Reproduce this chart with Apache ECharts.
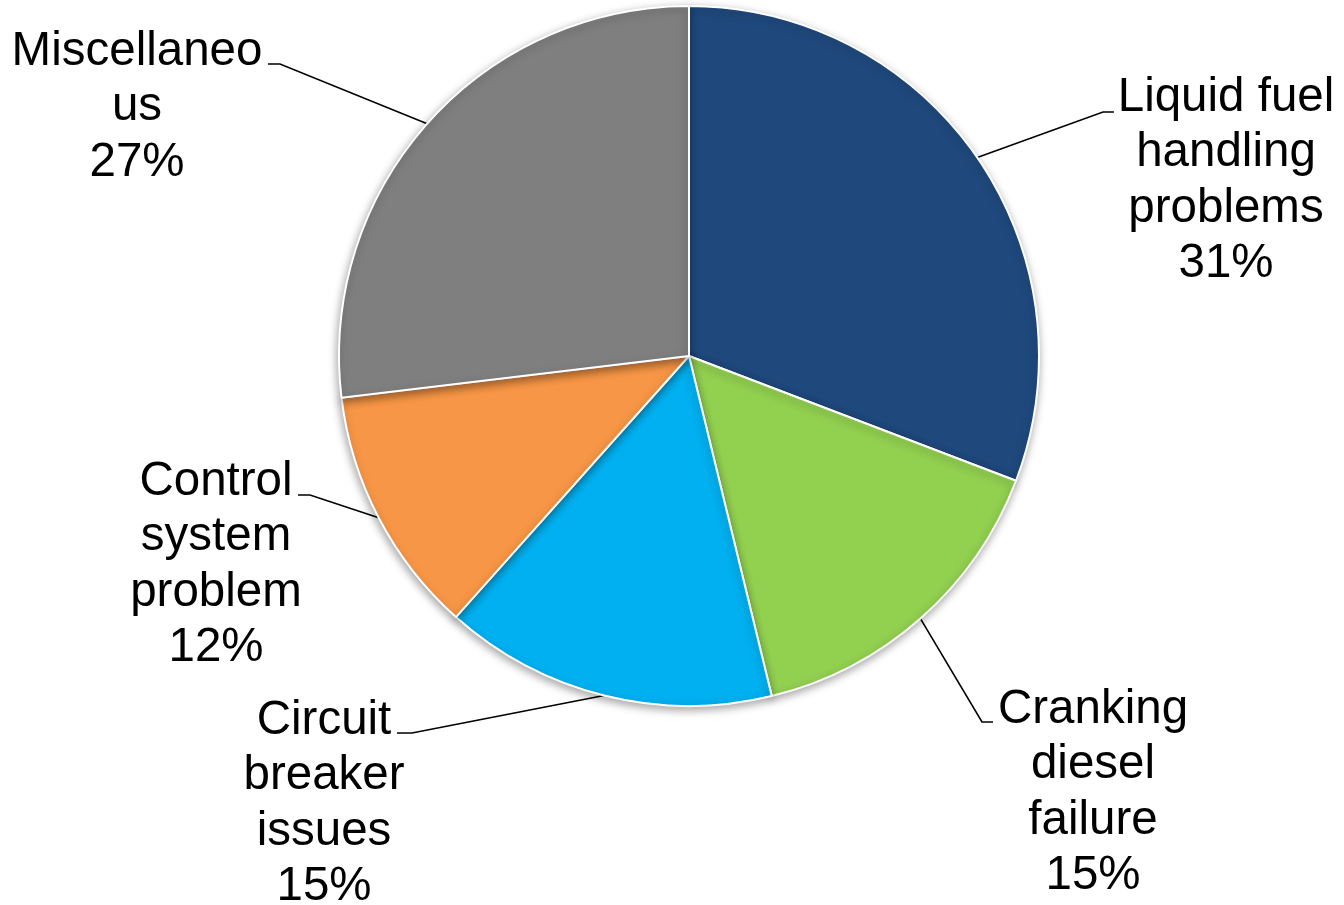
<!DOCTYPE html>
<html>
<head>
<meta charset="utf-8">
<script src="https://cdn.jsdelivr.net/npm/echarts@6/dist/echarts.min.js"></script>
<style>
  html, body { margin: 0; padding: 0; background: #ffffff; }
  #chart { width: 1344px; height: 905px; }
</style>
</head>
<body>
<div id="chart"></div>
<script>
// Data (clockwise from 12 o'clock)
const categories = [
  'Liquid fuel\nhandling\nproblems',
  'Cranking\ndiesel\nfailure',
  'Circuit\nbreaker\nissues',
  'Control\nsystem\nproblem',
  'Miscellaneo\nus'
];
const shares = [30.8, 15.4, 15.4, 11.5, 26.9];
const colors = ['#1F497D', '#92D050', '#00B0F0', '#F79646', '#7F7F7F'];

// Label placement (layout only): block centre and leader elbow / end
const labelCenters = [[1226, 181], [1093, 793], [324, 804], [216, 565], [137, 107]];
const leaderElbows = [[1103, 112], [982, 722], [412, 733], [310, 495], [280, 64]];
const leaderEnds   = [[1114, 112], [993, 722], [397, 733], [298, 495], [268, 64]];

const chart = echarts.init(document.getElementById('chart'), null, { renderer: 'canvas' });

const data = categories.map((name, i) => ({
  name: name,
  value: shares[i],
  itemStyle: { color: colors[i] }
}));

chart.setOption({
  backgroundColor: '#ffffff',
  animation: false,
  series: [{
    type: 'pie',
    center: [689, 356],
    radius: [0, 350],
    startAngle: 90,
    clockwise: true,
    data: data,
    itemStyle: {
      borderColor: '#ffffff',
      borderWidth: 2,
      shadowBlur: 8,
      shadowColor: 'rgba(0,0,0,0.35)',
      shadowOffsetX: -1,
      shadowOffsetY: 3
    },
    label: {
      show: true,
      formatter: p => p.name + '\n' + Math.round(p.value) + '%',
      fontFamily: '"Liberation Sans", Arial, sans-serif',
      fontSize: 47.5,
      lineHeight: 55.5,
      color: '#000000',
      align: 'center'
    },
    labelLine: {
      show: true,
      lineStyle: { color: '#000000', width: 1.6 }
    },
    labelLayout: function (params) {
      const i = params.dataIndex;
      const pts = params.labelLinePoints;
      const start = pts ? pts[0] : leaderElbows[i];
      return {
        x: labelCenters[i][0],
        y: labelCenters[i][1],
        align: 'center',
        verticalAlign: 'middle',
        labelLinePoints: [start, leaderElbows[i], leaderEnds[i]]
      };
    }
  }]
});
</script>
</body>
</html>
